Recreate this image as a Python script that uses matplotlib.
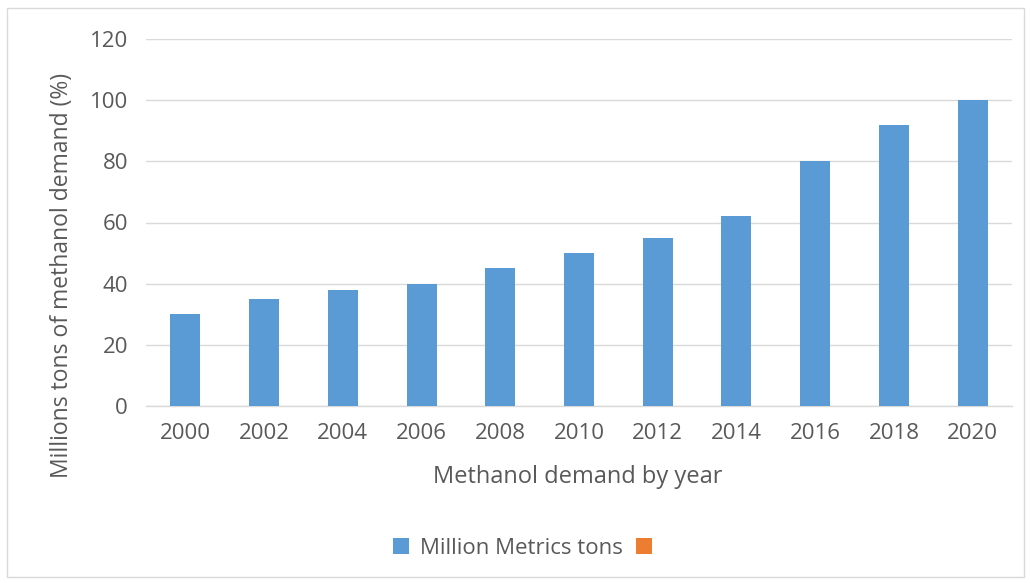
import matplotlib.pyplot as plt
from matplotlib.patches import Rectangle, Patch

plt.rcParams['font.family'] = ['Open Sans', 'DejaVu Sans']

years = ['2000', '2002', '2004', '2006', '2008', '2010',
         '2012', '2014', '2016', '2018', '2020']
demand = [30, 35, 38, 40, 45, 50, 55, 62, 80, 92, 100]
y_ticks = [0, 20, 40, 60, 80, 100, 120]

bar_color = '#5B9BD5'
text_color = '#595959'

fig = plt.figure(figsize=(10.31, 5.83), dpi=100)
fig.patch.set_facecolor('white')

# light chart border like the Excel chart area
fig.patches.append(Rectangle((7 / 1031, 0.01), 1 - 14 / 1031, 1 - 8 / 583 - 0.01,
                             transform=fig.transFigure, fill=False,
                             edgecolor='#D9D9D9', linewidth=1.0))

ax = fig.add_axes([146 / 1031, 1 - 406 / 583, (1012 - 146) / 1031, (406 - 39) / 583])

x = range(len(years))
ax.bar(x, demand, width=0.38, color=bar_color, zorder=3)

ax.set_xlim(-0.5, len(years) - 0.5)
ax.set_ylim(0, 120)
ax.set_yticks(y_ticks)
ax.set_xticks(list(x))
ax.set_xticklabels(years)

ax.grid(axis='y', color='#D9D9D9', linewidth=1.0, zorder=0)
ax.set_axisbelow(True)
for side in ['top', 'right', 'left']:
    ax.spines[side].set_visible(False)
ax.spines['bottom'].set_color('#D9D9D9')
ax.spines['bottom'].set_linewidth(1.0)

ax.tick_params(axis='both', length=0, labelsize=16, labelcolor=text_color)
ax.tick_params(axis='x', pad=12)
ax.tick_params(axis='y', pad=13)

ax.set_xlabel('Methanol demand by year', fontsize=17, color=text_color)
ax.xaxis.set_label_coords(0.499, -0.193)
ax.set_ylabel('Millions tons of methanol demand (%)', fontsize=16.5, color=text_color)
ax.yaxis.set_label_coords(-0.097, 0.357)
ax.yaxis.label.set_va('center')
ax.xaxis.label.set_va('center')

handles = [Patch(facecolor=bar_color, edgecolor='none'),
           Patch(facecolor='#ED7D31', edgecolor='none')]
fig.legend(handles, ['Million Metrics tons', ''], loc='center',
           bbox_to_anchor=(528 / 1031, 1 - 548 / 583), ncol=2, frameon=False,
           fontsize=16, labelcolor=text_color, handlelength=0.7, handleheight=0.7,
           handletextpad=0.5, columnspacing=0.6)

fig.savefig('out.png', dpi=100, facecolor='white')
